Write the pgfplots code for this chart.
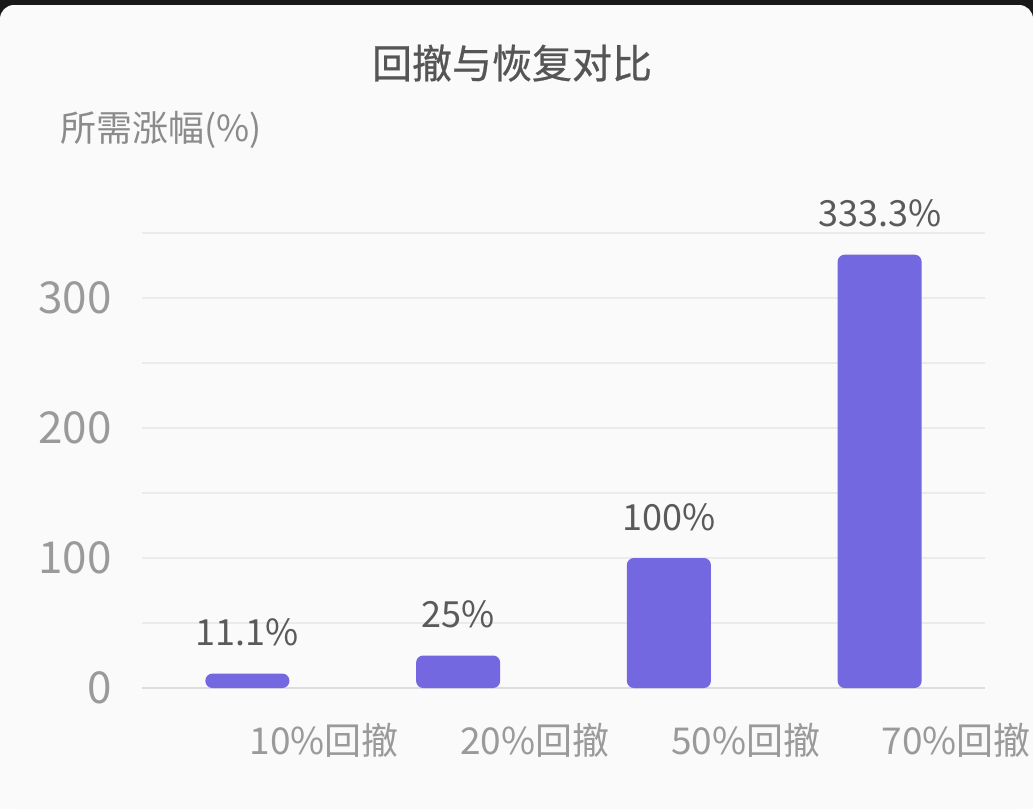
\documentclass[border=0pt]{standalone}
\usepackage{fontspec}
\setmainfont{Noto Sans CJK SC}
\newfontfamily\titlefont[FakeBold=0.6]{Noto Sans CJK SC}
\usepackage{pgfplots}
\usepackage{pgfplotstable}
\pgfplotsset{compat=1.18}
\definecolor{bg}{HTML}{FAFAFA}
\definecolor{barc}{RGB}{116,104,224}
\definecolor{gridc}{HTML}{EBEBEB}
\definecolor{basec}{HTML}{DDDDDD}
\definecolor{ticktext}{HTML}{9A9A9A}
\definecolor{labtext}{HTML}{5A5A5A}
\definecolor{titletext}{HTML}{555555}
\pgfplotstableread{
x y lab
0 11.1 11.1\%
1 25 25\%
2 100 100\%
3 333.3 333.3\%
}\datatab
\begin{document}
\begin{tikzpicture}
\path[use as bounding box] (0pt,0pt) rectangle (1033pt,-809pt);
\fill[black!90] (0pt,0pt) rectangle (1033pt,-40pt);
\fill[bg,rounded corners=14pt] (0pt,-5pt) rectangle (1033pt,-809pt);
\fill[bg] (0pt,-40pt) rectangle (1033pt,-809pt);
\node[text=titletext,font=\titlefont\fontsize{40}{46}\selectfont] at (512pt,-63pt) {回撤与恢复对比};
\node[anchor=west,inner sep=0pt,text=ticktext!90!black,font=\fontsize{36}{42}\selectfont] at (60pt,-130pt) {所需涨幅(\%)};
\begin{axis}[
  at={(142pt,-688pt)}, anchor=south west,
  scale only axis, width=843pt, height=455pt,
  xmin=-0.5, xmax=3.5, ymin=0, ymax=350,
  axis line style={draw=none},
  major tick length=0pt, minor tick length=0pt,
  xtick={0,1,2,3},
  xticklabels={10\%回撤,20\%回撤,50\%回撤,70\%回撤},
  xticklabel style={anchor=west, inner sep=0pt, xshift=2pt, yshift=-52pt, text=ticktext, font=\fontsize{37}{43}\selectfont},
  ytick={0,100,200,300},
  minor ytick={50,150,250,350},
  ymajorgrids, yminorgrids,
  major grid style={gridc, line width=2pt},
  minor grid style={gridc, line width=2pt},
  yticklabel style={anchor=east, inner sep=0pt, xshift=-30pt, text=ticktext, font=\fontsize{44}{50}\selectfont},
  /pgf/number format/assume math mode=true,
  clip=false,
]
\draw[basec, line width=2.5pt] (axis cs:-0.5,0) -- (axis cs:3.5,0);
\addplot[ybar, bar width=84pt, fill=barc, draw=none, rounded corners=7pt,
  point meta=explicit symbolic,
  nodes near coords,
  nodes near coords style={anchor=center, yshift=41pt, text=labtext, font=\fontsize{36}{42}\selectfont}]
  table[x=x, y=y, meta=lab] {\datatab};
\end{axis}
\end{tikzpicture}
\end{document}
